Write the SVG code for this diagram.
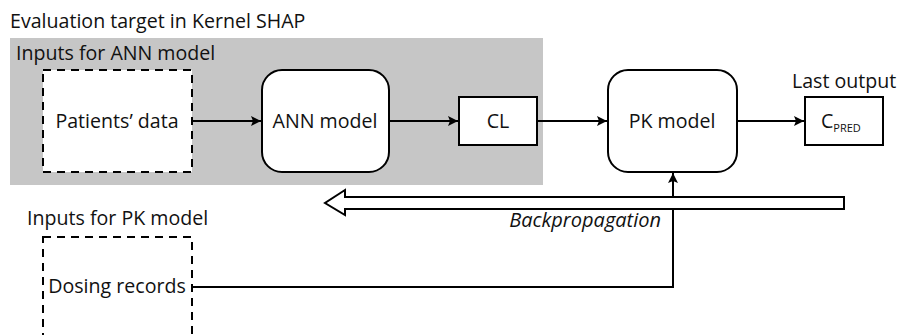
<svg xmlns="http://www.w3.org/2000/svg" width="898" height="335" viewBox="0 0 898 335">
<defs>
<style>
text{font-family:"Open Sans","Noto Sans","DejaVu Sans",sans-serif;fill:#111;}
.lbl{font-size:19.6px;}
.box{fill:#fff;stroke:#000;stroke-width:2;}
.dash{fill:#fff;stroke:#000;stroke-width:2;stroke-dasharray:8,6;}
.ln{fill:none;stroke:#000;stroke-width:2;}
</style>
<marker id="ah" viewBox="0 0 10 10" refX="10" refY="5" markerWidth="10" markerHeight="10" markerUnits="userSpaceOnUse" orient="auto">
<path d="M0,0 L10,5 L0,10 L2,5 Z" fill="#000"/>
</marker>
</defs>
<rect width="898" height="335" fill="#fff"/>
<text x="10" y="28" class="lbl" font-size="20">Evaluation target in Kernel SHAP</text>
<rect id="ann-region" x="10" y="38" width="533" height="147" fill="#c6c6c6"/>
<text x="16" y="60" class="lbl">Inputs for ANN model</text>

<g id="connectors">
<line x1="192" y1="121" x2="261" y2="121" class="ln" marker-end="url(#ah)"/>
<line x1="389" y1="121" x2="458" y2="121" class="ln" marker-end="url(#ah)"/>
<line x1="537" y1="121" x2="607" y2="121" class="ln" marker-end="url(#ah)"/>
<line x1="737" y1="121" x2="804" y2="121" class="ln" marker-end="url(#ah)"/>
<polyline points="192,287 673,287 673,173" class="ln" marker-end="url(#ah)"/>
</g>

<g id="backprop">
<polygon points="844,197 345,197 345,190 325,203 345,215 345,209 844,209" fill="#fff" stroke="#000" stroke-width="2"/>
<text x="661" y="227" font-size="20" font-style="italic" text-anchor="end">Backpropagation</text>
</g>

<g id="patients-data">
<rect x="43" y="70" width="149" height="102" class="dash"/>
<text x="117" y="128" class="lbl" text-anchor="middle">Patients’ data</text>
</g>
<g id="ann-model">
<rect x="262" y="70" width="127" height="102" rx="20" class="box"/>
<text x="325" y="128" class="lbl" text-anchor="middle">ANN model</text>
</g>
<g id="cl">
<rect x="459" y="97" width="78" height="48" class="box"/>
<text x="498" y="128" class="lbl" text-anchor="middle">CL</text>
</g>
<g id="pk-model">
<rect x="608" y="70" width="129" height="102" rx="20" class="box"/>
<text x="672" y="128" class="lbl" text-anchor="middle">PK model</text>
</g>
<g id="cpred">
<text x="792" y="88" class="lbl">Last output</text>
<rect x="805" y="97" width="78" height="48" class="box"/>
<text x="821" y="128" class="lbl">C<tspan font-size="11" dy="4">PRED</tspan></text>
</g>
<g id="dosing-records">
<text x="27" y="225" class="lbl">Inputs for PK model</text>
<rect x="43" y="237" width="149" height="120" class="dash"/>
<text x="117" y="293" class="lbl" text-anchor="middle">Dosing records</text>
</g>
</svg>
